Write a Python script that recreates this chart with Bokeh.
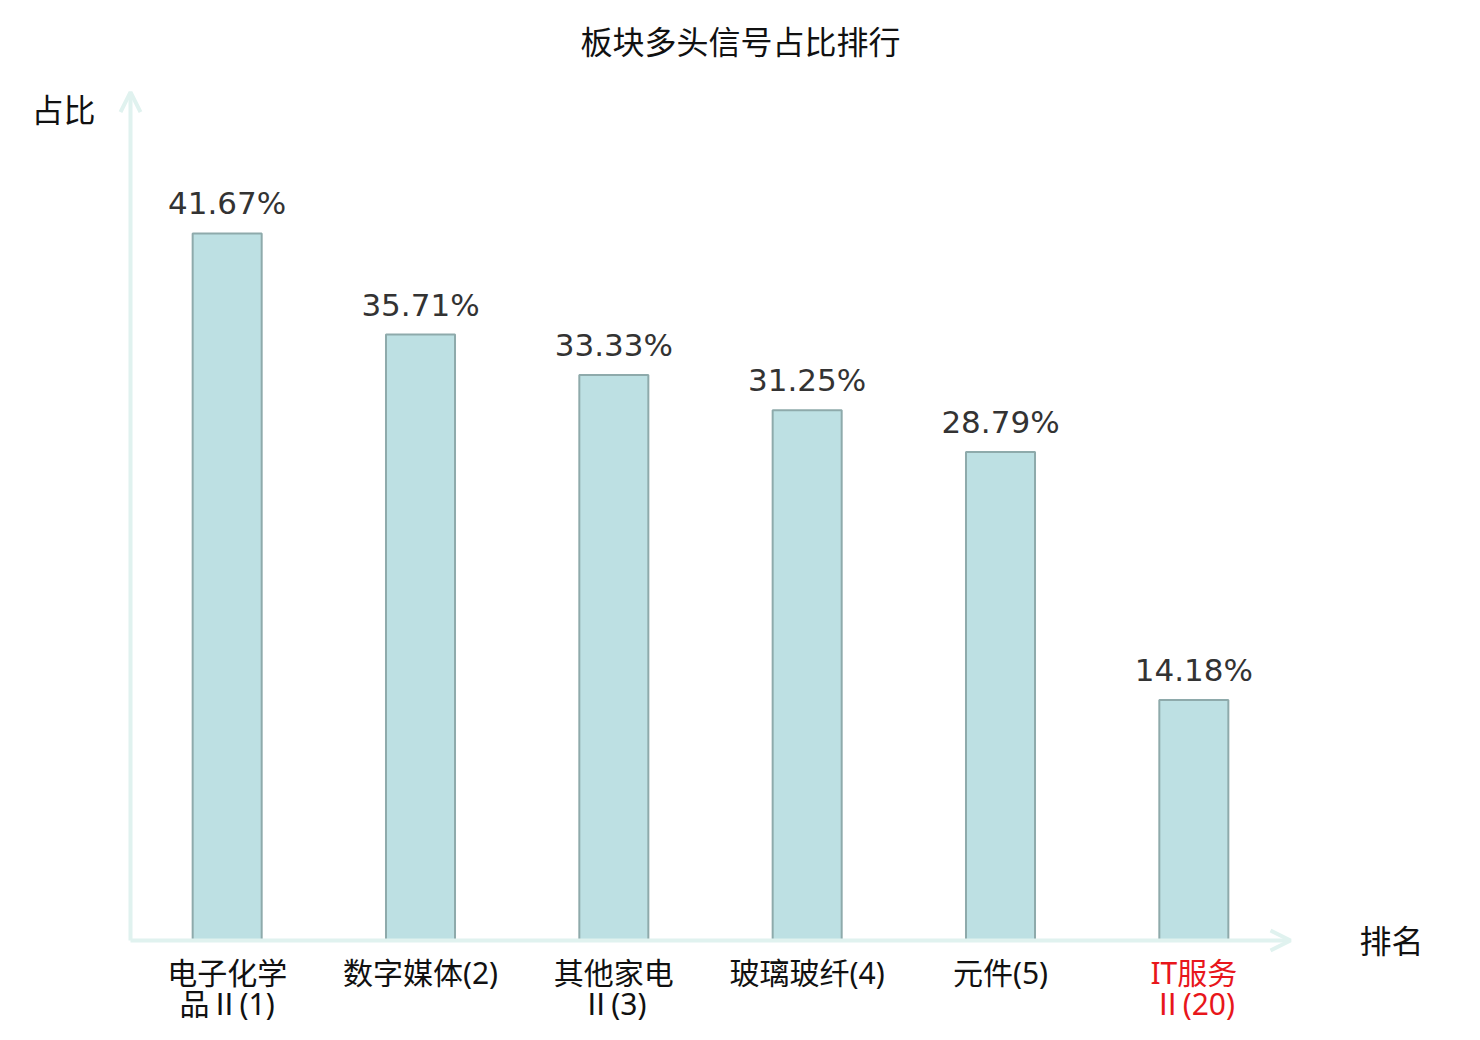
from bokeh.plotting import figure
from bokeh.models import Range1d, Arrow, OpenHead, ColumnDataSource
from bokeh.core.properties import value
from bokeh.embed import file_html
from bokeh.resources import INLINE

# ---- data ----
categories = ["电子化学品Ⅱ(1)", "数字媒体(2)", "其他家电Ⅱ(3)", "玻璃玻纤(4)", "元件(5)", "IT服务Ⅱ(20)"]
label_line1 = ["电子化学", "数字媒体(2)", "其他家电", "玻璃玻纤(4)", "元件(5)", "IT服务"]
label_line2 = ["品Ⅱ(1)", "", "Ⅱ(3)", "", "", "Ⅱ(20)"]
label_colors = ["#111111", "#111111", "#111111", "#111111", "#111111", "#e8161b"]
shares = [41.67, 35.71, 33.33, 31.25, 28.79, 14.18]
share_labels = ["41.67%", "35.71%", "33.33%", "31.25%", "28.79%", "14.18%"]
y_axis_max = 50

# ---- layout (picture pixels) ----
W, H = 1464, 1024
AX_LEFT, AX_RIGHT, AX_BASE = 130, 1290, 940
n = len(categories)
px_per_cat = (AX_RIGHT - AX_LEFT) / n
px_per_unit = 16.967

def ux(px):
    return (px - AX_LEFT) / px_per_cat

def vy(py):
    return (AX_BASE - py) / px_per_unit

x_range = Range1d(ux(0), ux(W))
y_range = Range1d(vy(H), vy(0))

p = figure(width=W, height=H, x_range=x_range, y_range=y_range,
           output_backend="svg", toolbar_location=None,
           min_border=0, min_border_left=0, min_border_right=0,
           min_border_top=0, min_border_bottom=0)
p.axis.visible = False
p.grid.visible = False
p.outline_line_color = None
p.background_fill_color = "white"
p.border_fill_color = "white"

xs = [i + 0.5 for i in range(n)]
src = ColumnDataSource(dict(x=xs, top=shares, lab=share_labels, cat=categories,
                            l1=label_line1, l2=label_line2, col=label_colors))

axis_color = "#e0f2ef"
p.add_layout(Arrow(end=OpenHead(size=20, line_color=axis_color, line_width=4),
                   x_start=0, y_start=0, x_end=n, y_end=0,
                   line_color=axis_color, line_width=4))
p.add_layout(Arrow(end=OpenHead(size=20, line_color=axis_color, line_width=4),
                   x_start=0, y_start=0, x_end=0, y_end=y_axis_max,
                   line_color=axis_color, line_width=4))

p.vbar(x="x", top="top", bottom=0, width=0.357, source=src,
       fill_color="#bde0e3", line_color="#8eaaab", line_width=2)

p.text(x="x", y="top", text="lab", source=src, text_align="center",
       text_baseline="alphabetic", y_offset=-30,
       text_font=value("DejaVu Sans"), text_font_size="31px", text_color="#333333")

cjk = value("Noto Sans CJK SC")
cat_font = value("Noto Sans, Noto Sans CJK SC")
p.text(x="x", y=vy(972), text="l1", source=src, text_align="center",
       text_baseline="middle", text_font=cat_font, text_font_size="30px", text_color="col")
p.text(x="x", y=vy(1003), text="l2", source=src, text_align="center",
       text_baseline="middle", text_font=cat_font, text_font_size="30px", text_color="col")

# title and axis names
p.text(x=[ux(740)], y=[vy(39)], text=["板块多头信号占比排行"], text_align="center",
       text_baseline="middle", text_font=cjk, text_font_size="32px", text_color="#111111")
p.text(x=[ux(63)], y=[vy(107)], text=["占比"], text_align="center",
       text_baseline="middle", text_font=cjk, text_font_size="32px", text_color="#111111")
p.text(x=[ux(1391)], y=[vy(938)], text=["排名"], text_align="center",
       text_baseline="middle", text_font=cjk, text_font_size="32px", text_color="#111111")

open("out.html", "w").write(file_html(p, INLINE))
